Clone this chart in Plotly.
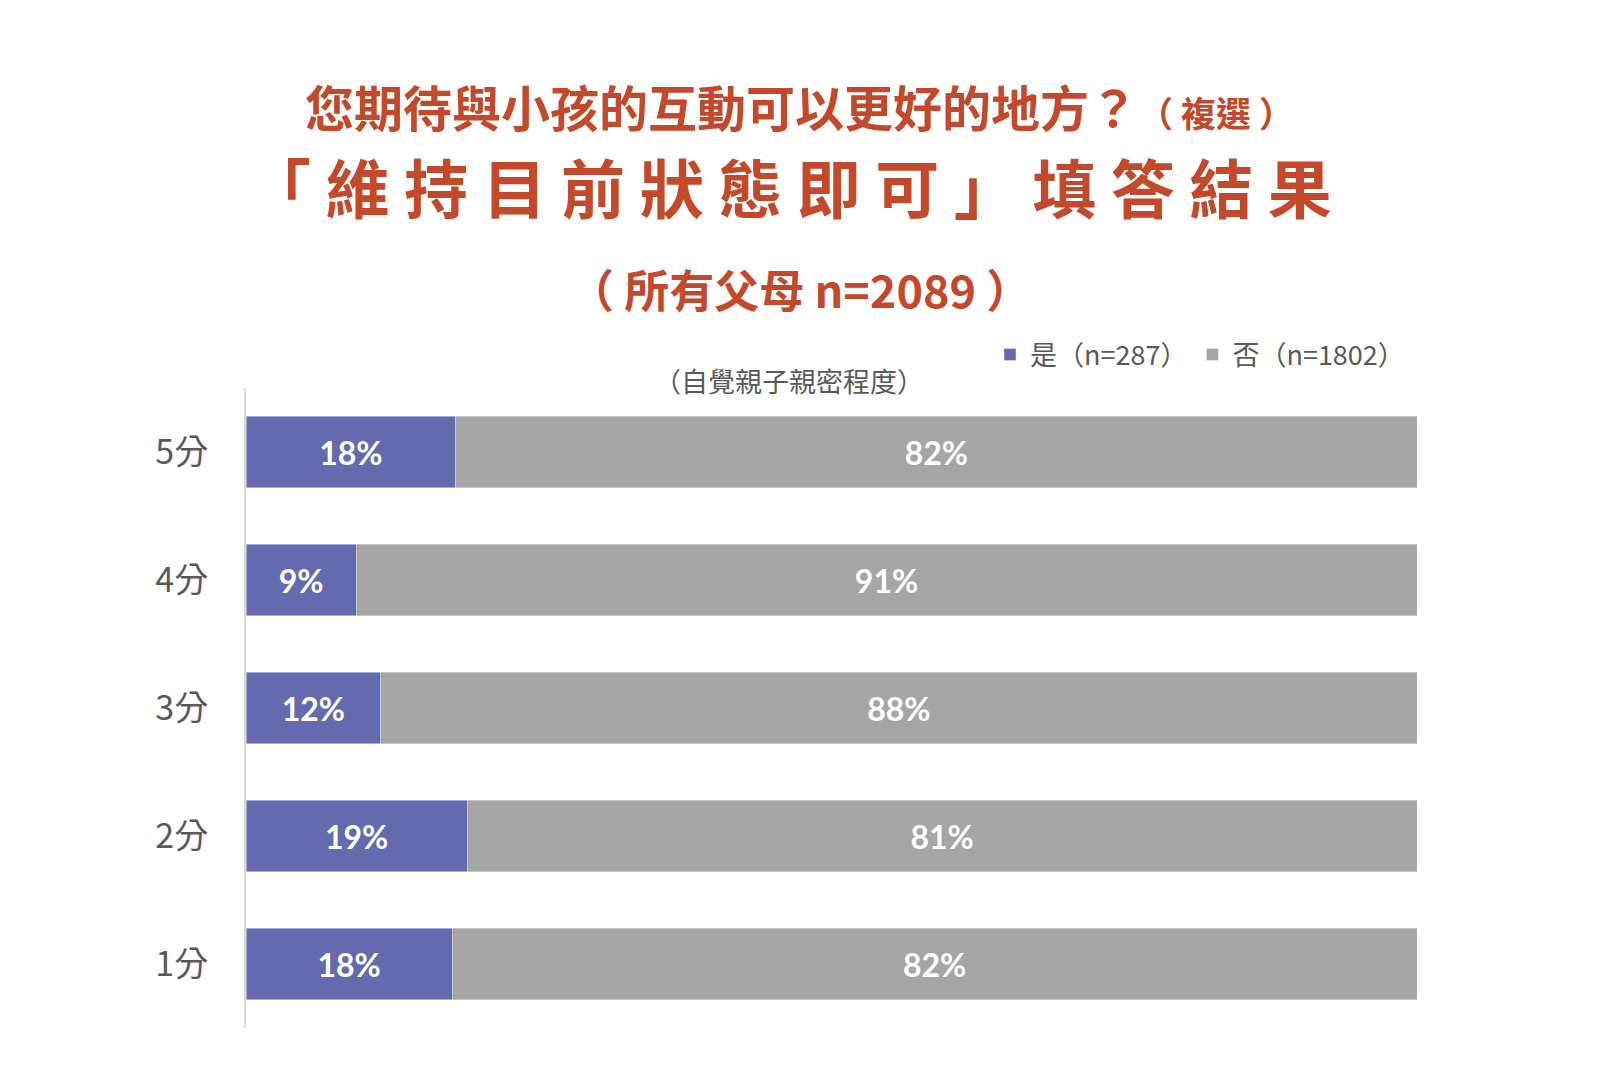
import plotly.graph_objects as go

# ------ données
categories = ["5分", "4分", "3分", "2分", "1分"]
oui = [18, 9, 12, 19, 18]      # 是
non = [82, 91, 88, 81, 82]     # 否
oui_largeur = [17.9, 9.4, 11.5, 18.9, 17.6]   # longueur
non_largeur = [100 - v for v in oui_largeur]
noms = ["是（n=287）", "否（n=1802）"]

titre1 = "您期待與小孩的互動可以更好的地方？"
titre1_suite = "（ 複選 ）"
titre2 = "「 維 持 目 前 狀 態 即 可 」 填 答 結 果"
titre3 = "（ 所有父母 n=2089 ）"
sous_titre = "（自覺親子親密程度）"

rouge = "#C4492B"
bleu = "#636BAE"
gris = "#A5A5A5"
texte = "#595959"
police = "Noto Sans CJK TC"

W, H = 1600, 1072
L, R, T, B = 238, 191, 380, 52
pw, ph = W - L - R, H - T - B


def px(x):
    return (x - L) / pw


def py(y):
    return 1 + (T - y) / ph


fig = go.Figure()
fig.add_trace(go.Bar(y=categories, x=oui_largeur, name=noms[0], orientation="h",
                     marker_color=bleu, text=[f"{v}%" for v in oui],
                     textposition="inside", insidetextanchor="middle",
                     textfont=dict(family="Lato", size=32, color="white", weight="bold"),
                     hoverinfo="skip"))
fig.add_trace(go.Bar(y=categories, x=non_largeur, name=noms[1], orientation="h",
                     marker_color=gris, text=[f"{v}%" for v in non],
                     textposition="inside", insidetextanchor="middle",
                     textfont=dict(family="Lato", size=32, color="white", weight="bold"),
                     hoverinfo="skip"))

fig.update_layout(
    width=W, height=H,
    barmode="stack", bargap=0.445,
    plot_bgcolor="white", paper_bgcolor="white",
    margin=dict(l=L, r=R, t=T, b=B),
    font=dict(family=police, color=texte),
    showlegend=True,
    legend=dict(orientation="h", x=px(1402), xanchor="right", y=py(347), yanchor="middle",
                font=dict(size=27, color=texte), traceorder="normal",
                itemwidth=30, bgcolor="rgba(0,0,0,0)"),
    uniformtext=dict(mode=False),
)
fig.update_xaxes(range=[0, 100], visible=False, fixedrange=True)
fig.update_yaxes(autorange="reversed", showline=True, linecolor="#D9D9D9", linewidth=2,
                 showgrid=False, ticks="", ticklabelstandoff=29,
                 tickfont=dict(size=34, color=texte, family=police))

annots = [
    (f"<b>{titre1}<span style='font-size:35px'>{titre1_suite}</span></b>", 791, 97, 49, rouge),
    (f"<b>{titre2}</b>", 781, 177, 64, rouge),
    (f"<b>{titre3}</b>", 792, 281, 45, rouge),
    (sous_titre, 781, 372, 27, texte),
]
for txt, x, y, taille, coul in annots:
    fig.add_annotation(text=txt, x=px(x), y=py(y), xref="paper", yref="paper",
                       xanchor="center", yanchor="middle", showarrow=False,
                       font=dict(family=police, size=taille, color=coul))

fig.write_html("out.html")
